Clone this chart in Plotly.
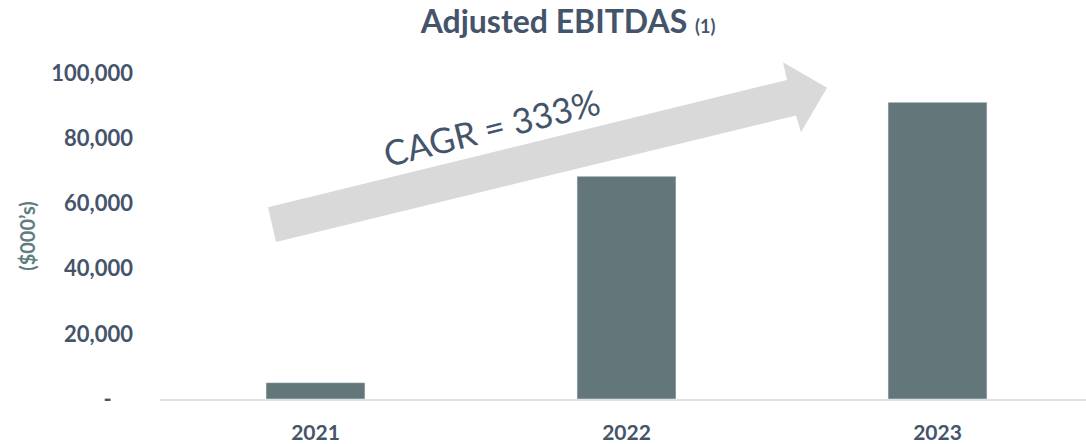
import plotly.graph_objects as go

# data
years = ["2021", "2022", "2023"]
ebitdas = [5000, 68300, 91000]
ytick_vals = [0, 20000, 40000, 60000, 80000, 100000]
ytick_text = ["-\u00a0\u00a0\u00a0\u00a0", "20,000", "40,000", "60,000", "80,000", "100,000"]
cagr_label = "CAGR = 333%"

W, H = 1086, 444
L, R, T, B = 160, 0, 73, 41
pw, ph = W - L - R, H - T - B

def px2paper(x, y):
    # page pixels -> paper coords
    return (x - L) / pw, (H - B - y) / ph

# block arrow outline (page pixels)
arrow_px = [(268, 209), (787, 80), (783, 62), (827, 88), (801, 133), (796, 116), (276, 244)]
pts = [px2paper(x, y) for x, y in arrow_px]
arrow_path = "M " + " L ".join(f"{x:.4f},{y:.4f}" for x, y in pts) + " Z"

dark = "#44546a"
fig = go.Figure()
fig.add_trace(go.Bar(x=years, y=ebitdas, marker_color="#637679", width=0.318))

fig.add_shape(type="path", path=arrow_path, xref="paper", yref="paper",
              fillcolor="#d9d9d9", line_width=0, layer="below")

cx, cy = px2paper(491, 128)
fig.add_annotation(text=cagr_label, x=cx, y=cy, xref="paper", yref="paper",
                   xanchor="center", yanchor="middle",
                   showarrow=False, textangle=-14,
                   font=dict(family="Lato", size=35, color=dark))

fig.update_layout(
    width=W, height=H,
    margin=dict(l=L, r=R, t=T, b=B),
    plot_bgcolor="white", paper_bgcolor="white",
    showlegend=False,
    title=dict(text="<b>Adjusted EBITDAS <span style='font-size:18px'>(1)</span></b>",
               x=568 / W, xanchor="center", y=1 - 22 / H, yanchor="middle",
               font=dict(family="Lato", size=32, color=dark)),
    font=dict(family="Lato", color=dark),
)
fig.update_xaxes(range=[-0.5, -0.5 + pw / 311], showline=True, linecolor="#dde3e3",
                 linewidth=2, ticks="", showgrid=False, ticklabelstandoff=14,
                 tickfont=dict(family="Lato", size=21, color=dark, weight="bold"))
fig.update_yaxes(range=[0, 100000], showgrid=False, zeroline=False, showline=False,
                 tickvals=ytick_vals, ticktext=ytick_text, ticklabelstandoff=26,
                 tickfont=dict(family="Lato", size=22, color=dark, weight="bold"),
                 title=dict(text="<b>($000’s)</b>", standoff=10,
                            font=dict(family="Lato", size=20, color="#5e7d7d")))

# drop the default 8px body margin so the figure fills the window
fig.write_html("out.html", config={"displayModeBar": False},
               post_script="document.body.style.margin='0';")
